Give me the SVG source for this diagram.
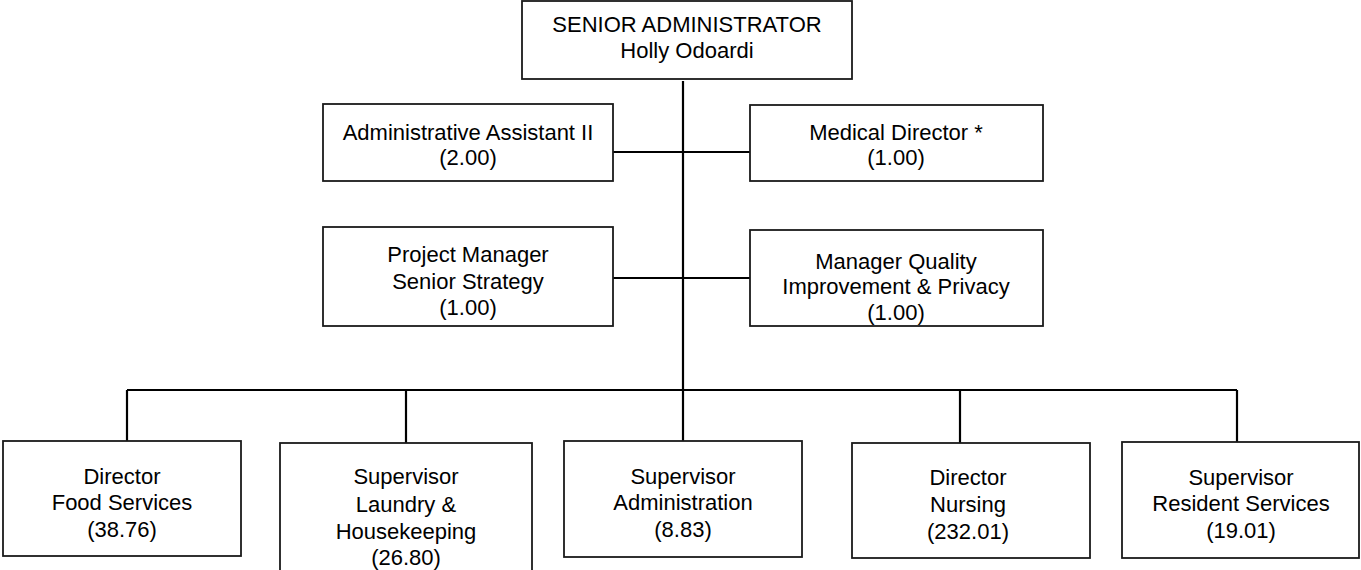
<svg xmlns="http://www.w3.org/2000/svg" width="1361" height="570" viewBox="0 0 1361 570">
<style>
.box{fill:#fff;stroke:#1a1a1a;stroke-width:1.8}
.t{font-family:"Liberation Sans",Arial,sans-serif;font-size:22px;fill:#000;text-anchor:middle}
.c{stroke:#000;stroke-width:2.2;fill:none}
</style>
<rect width="1361" height="570" fill="#fff"/>
<g id="connectors">
<path class="c" d="M683,81 V390"/>
<path class="c" d="M613,152 H750"/>
<path class="c" d="M613,278 H750"/>
<path class="c" d="M127,390 H1237"/>
<path class="c" d="M127,390 V441"/>
<path class="c" d="M406,390 V443"/>
<path class="c" d="M683,390 V441"/>
<path class="c" d="M960,390 V443"/>
<path class="c" d="M1237,390 V442"/>
</g>
<g id="senior-administrator">
<rect class="box" x="522" y="1" width="330" height="78"/>
<text class="t" x="687" y="32">SENIOR ADMINISTRATOR</text>
<text class="t" x="687" y="58">Holly Odoardi</text>
</g>
<g id="admin-assistant">
<rect class="box" x="323" y="104" width="290" height="77"/>
<text class="t" x="468" y="140">Administrative Assistant II</text>
<text class="t" x="468" y="165">(2.00)</text>
</g>
<g id="medical-director">
<rect class="box" x="750" y="105" width="293" height="76"/>
<text class="t" x="896" y="140">Medical Director *</text>
<text class="t" x="896" y="165">(1.00)</text>
</g>
<g id="project-manager">
<rect class="box" x="323" y="227" width="290" height="99"/>
<text class="t" x="468" y="262">Project Manager</text>
<text class="t" x="468" y="289">Senior Strategy</text>
<text class="t" x="468" y="315">(1.00)</text>
</g>
<g id="manager-quality">
<rect class="box" x="750" y="230" width="293" height="96"/>
<text class="t" x="896" y="269">Manager Quality</text>
<text class="t" x="896" y="294">Improvement &amp; Privacy</text>
<text class="t" x="896" y="320">(1.00)</text>
</g>
<g id="director-food">
<rect class="box" x="3" y="441" width="238" height="115"/>
<text class="t" x="122" y="484">Director</text>
<text class="t" x="122" y="510">Food Services</text>
<text class="t" x="122" y="537">(38.76)</text>
</g>
<g id="supervisor-laundry">
<rect class="box" x="280" y="443" width="252" height="130"/>
<text class="t" x="406" y="484">Supervisor</text>
<text class="t" x="406" y="512">Laundry &amp;</text>
<text class="t" x="406" y="539">Housekeeping</text>
<text class="t" x="406" y="565">(26.80)</text>
</g>
<g id="supervisor-admin">
<rect class="box" x="564" y="441" width="238" height="116"/>
<text class="t" x="683" y="484">Supervisor</text>
<text class="t" x="683" y="510">Administration</text>
<text class="t" x="683" y="537">(8.83)</text>
</g>
<g id="director-nursing">
<rect class="box" x="852" y="443" width="238" height="115"/>
<text class="t" x="968" y="485">Director</text>
<text class="t" x="968" y="512">Nursing</text>
<text class="t" x="968" y="539">(232.01)</text>
</g>
<g id="supervisor-resident">
<rect class="box" x="1122" y="442" width="237" height="116"/>
<text class="t" x="1241" y="485">Supervisor</text>
<text class="t" x="1241" y="511">Resident Services</text>
<text class="t" x="1241" y="538">(19.01)</text>
</g>
</svg>
